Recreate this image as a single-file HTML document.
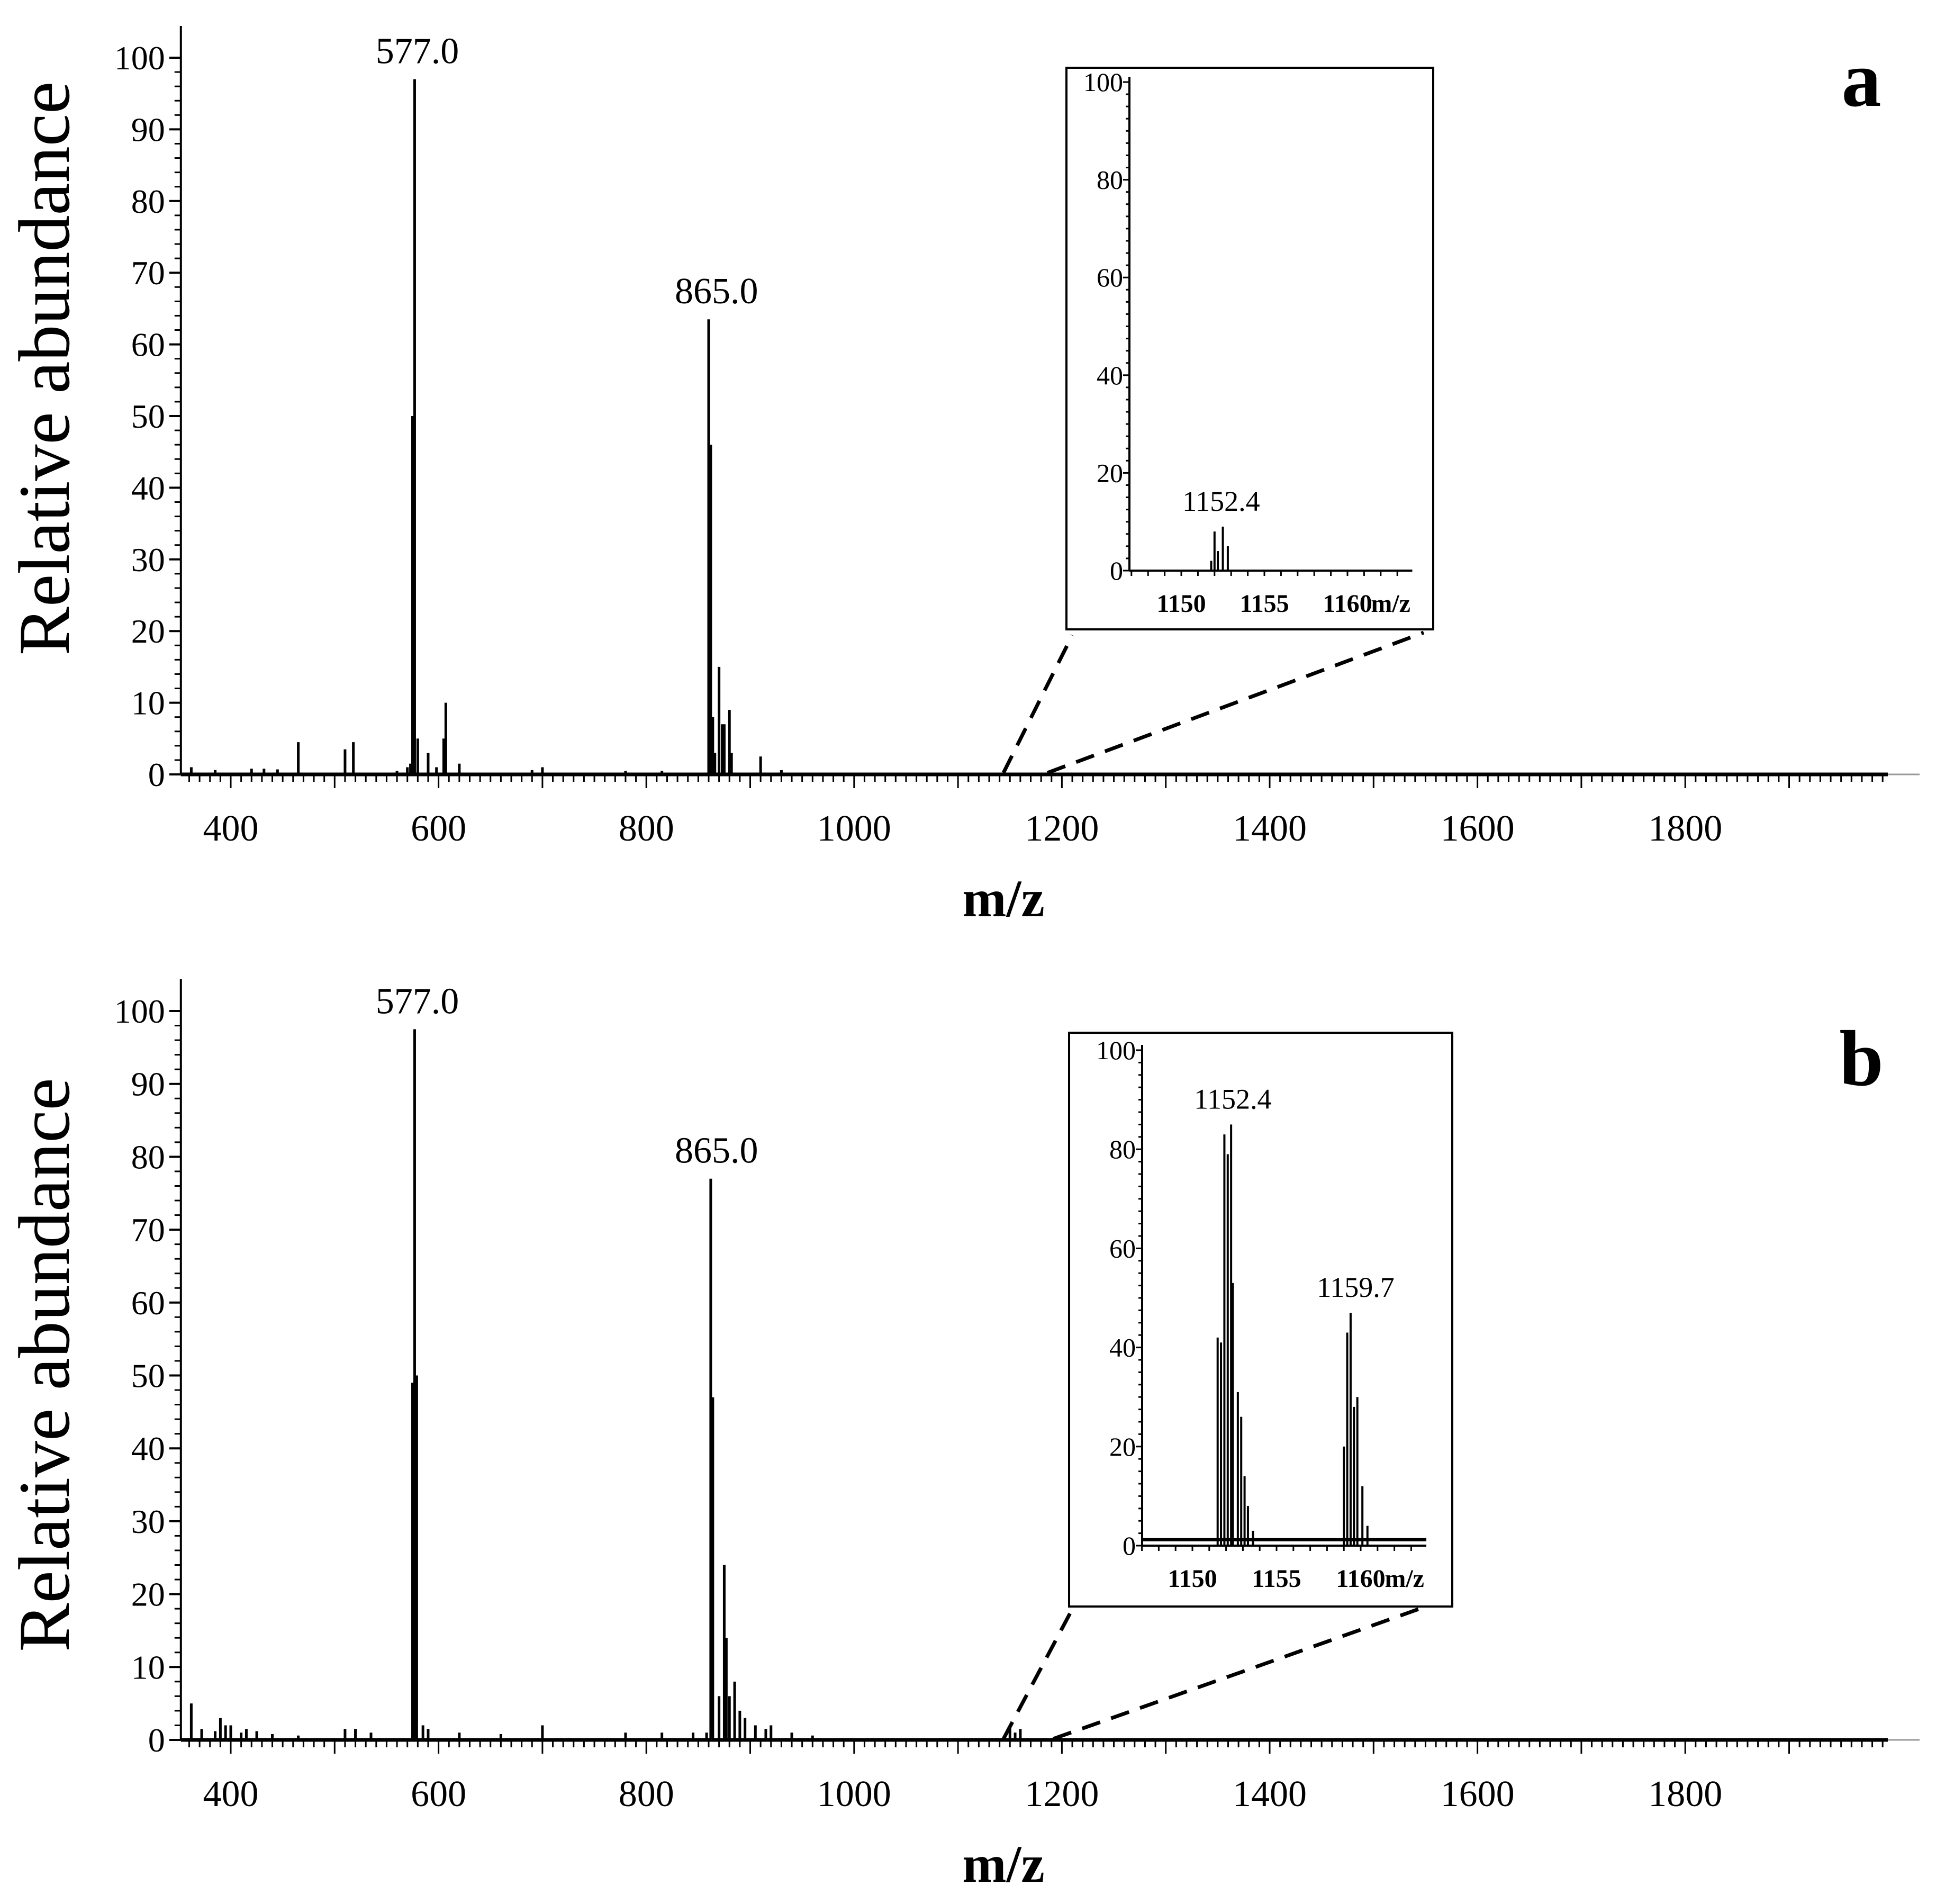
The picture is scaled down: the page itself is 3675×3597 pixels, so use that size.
<!DOCTYPE html>
<html><head><meta charset="utf-8"><style>
html,body{margin:0;padding:0;background:#fff;}
svg{display:block;}
text{font-family:"Liberation Serif",serif;fill:#000;}
</style></head><body>
<svg id="fig" width="3675" height="3597" viewBox="0 0 3675 3597" xmlns="http://www.w3.org/2000/svg"></svg>
<script>
// ---- data ----
const mzA = [362,385,420,432,445,465,510,518,560,570,573,575,577,580,590,598,605,607,620,690,700,780,815,860,862,864,866,870,873,875,880,882,910,930];
const abA = [1,0.6,0.8,0.8,0.7,4.5,3.5,4.5,0.5,1,1.5,50,97,5,3,1,5,10,1.5,0.6,1,0.5,0.5,63.5,46,8,3,15,7,7,9,3,2.5,0.6];
const mzB = [362,372,385,390,395,400,410,415,425,440,465,510,520,535,575,577,579,585,590,620,660,700,780,815,845,858,862,864,870,875,877,880,885,890,895,905,915,920,940,960,1150,1155,1160];
const abB = [5,1.5,1.2,3,2,2,1,1.5,1.2,0.8,0.6,1.5,1.5,1,49,97.5,50,2,1.5,1,0.8,2,1,1,1,1,77,47,6,24,14,6,8,4,3,2,1.5,2,1,0.6,2,1,1.5];
const insetMzA = [1151.8,1152.0,1152.2,1152.5,1152.8];
const insetAbA = [2,8,4,9,5];
const insetMzB = [1151.5,1151.7,1151.9,1152.1,1152.3,1152.4,1152.7,1152.9,1153.1,1153.3,1153.6,1159.0,1159.2,1159.4,1159.6,1159.8,1160.1,1160.4];
const insetAbB = [42,41,83,79,85,53,31,26,14,8,3,20,43,47,28,30,12,4];
const yTicks = [0,10,20,30,40,50,60,70,80,90,100];
const xTicks = [400,600,800,1000,1200,1400,1600,1800];
const insetYTicks = [0,20,40,60,80,100];
const insetXTicks = [1150,1155,1160];

const NS='http://www.w3.org/2000/svg';
const svg=document.getElementById('fig');
function mk(tag,attrs,parent,txt){const e=document.createElementNS(NS,tag);for(const k in attrs)e.setAttribute(k,attrs[k]);if(txt!==undefined)e.textContent=txt;(parent||svg).appendChild(e);return e;}

function panel(id,y0,y100,mz,ab,labels,letterY,insetCfg,titleShift){
  const g=mk('g',{});
  
  
  const xs=m=>436+(m-400)*1.963;
  const ys=v=>y0-(v/100)*(y0-y100);
  const xmin=352,xmax=1995;
  const ya=mk('line',{x1:xs(xmin),y1:y0,x2:xs(xmin),y2:y100-60,stroke:'#000','stroke-width':4},g);
  
  
  for(let v=0;v<=100;v+=2){const major=v%10===0;mk('line',{x1:xs(xmin)-(major?22:12),y1:ys(v),x2:xs(xmin),y2:ys(v),stroke:'#000','stroke-width':major?4:3},g);}
  yTicks.forEach(v=>{const t=mk('text',{x:xs(xmin)-30,y:ys(v)+22,'font-size':64,'text-anchor':'end'},g,String(v));
    
    });
  const xa=mk('line',{x1:xs(xmin),y1:y0,x2:xs(xmax),y2:y0,stroke:'#000','stroke-width':7},g);
  
  
  mk('line',{x1:xs(xmax),y1:y0,x2:xs(xmax)+60,y2:y0,stroke:'#999','stroke-width':3},g);
  for(let m=360;m<=1990;m+=10){const major=m%100===0;mk('line',{x1:xs(m),y1:y0,x2:xs(m),y2:y0+(major?26:14),stroke:'#000','stroke-width':3},g);}
  xTicks.forEach(m=>{const t=mk('text',{x:xs(m),y:y0+125,'font-size':70,'text-anchor':'middle'},g,String(m));
    
    });
  const xt=mk('text',{x:1896,y:y0+268,'font-size':100,'font-weight':'bold','text-anchor':'middle'},g,'m/z');
  
  
  const yt=mk('text',{x:0,y:0,'font-size':138,'text-anchor':'middle',transform:`translate(130,${(y0+y100)/2+titleShift}) rotate(-90)`},g,'Relative abundance');
  
  
  mz.forEach((m,i)=>{const b=mk('line',{x1:xs(m),y1:y0,x2:xs(m),y2:ys(ab[i]),stroke:'#000','stroke-width':5},g);
    
    });
  labels.forEach(l=>{const t=mk('text',{x:xs(l[0])+5,y:ys(l[1])-30,'font-size':70,'text-anchor':'middle'},g,l[0].toFixed(1));
    
    });
  const lt=mk('text',{x:3517,y:letterY,'font-size':150,'font-weight':'bold','text-anchor':'middle'},g,id);
  
  
  const c=insetCfg;
  const ig=mk('g',{},g);
  
  
  mk('rect',{x:c.bx,y:c.by,width:c.bw,height:c.bh,fill:'#fff',stroke:'#000','stroke-width':4},ig);
  const ixs=m=>c.x1150+(m-1150)*c.ppu;
  const iys=v=>c.iy0-(v/100)*(c.iy0-c.iy100);
  mk('line',{x1:c.ax,y1:c.iy0,x2:c.ax,y2:c.iy100-10,stroke:'#000','stroke-width':4},ig);
  for(let v=0;v<=100;v+=2.5){mk('line',{x1:c.ax-(v%20===0?12:7),y1:iys(v),x2:c.ax,y2:iys(v),stroke:'#000','stroke-width':3},ig);}
  insetYTicks.forEach(v=>{mk('text',{x:c.ax-12,y:iys(v)+17,'font-size':50,'text-anchor':'end'},ig,String(v));});
  mk('line',{x1:c.ax,y1:c.iy0,x2:ixs(1163.9),y2:c.iy0,stroke:'#000','stroke-width':4},ig);
  for(let m=1147;m<=1163;m++){mk('line',{x1:ixs(m),y1:c.iy0,x2:ixs(m),y2:c.iy0+10,stroke:'#000','stroke-width':3},ig);}
  insetXTicks.forEach(m=>{mk('text',{x:ixs(m),y:c.iy0+78,'font-size':48,'font-weight':'bold','text-anchor':'middle'},ig,String(m));});
  mk('text',{x:ixs(1162.6),y:c.iy0+78,'font-size':48,'font-weight':'bold','text-anchor':'middle'},ig,'m/z');
  if(c.noise){mk('line',{x1:c.ax,y1:iys(1.2),x2:ixs(1163.9),y2:iys(1.2),stroke:'#000','stroke-width':6},ig);}
  c.mz.forEach((m,i)=>{const b=mk('line',{x1:ixs(m),y1:c.iy0,x2:ixs(m),y2:iys(c.ab[i]),stroke:'#000','stroke-width':4},ig);
    
    });
  c.labels.forEach(l=>{mk('text',{x:ixs(l[0]),y:iys(l[1])-30,'font-size':54,'text-anchor':'middle'},ig,l[0].toFixed(1));});
  c.dash.forEach(d=>{const dl=mk('line',{x1:d[0],y1:d[1],x2:d[2],y2:d[3],stroke:'#000','stroke-width':7,'stroke-dasharray':'36,22'},g);
    
    });
}

panel('a',1463,109,mzA,abA,[[577,97],[865,63.5]],200,{
  bx:2015,by:128,bw:693,bh:1061,ax:2134,iy0:1078,iy100:155,x1150:2232,ppu:31.4,
  mz:insetMzA,ab:insetAbA,labels:[[1152.4,9]],noise:false,
  dash:[[1896,1460,2026,1200],[1979,1460,2690,1195]]
},-90);
panel('b',3287,1910,mzB,abB,[[577,97.5],[865,77]],2050,{
  bx:2020,by:1951,bw:724,bh:1084,ax:2158,iy0:2920,iy100:1984,x1150:2253,ppu:31.8,
  mz:insetMzB,ab:insetAbB,labels:[[1152.4,85],[1159.7,47]],noise:true,
  dash:[[1896,3285,2026,3040],[1990,3285,2697,3034]]
},-20);
</script>
</body></html>
